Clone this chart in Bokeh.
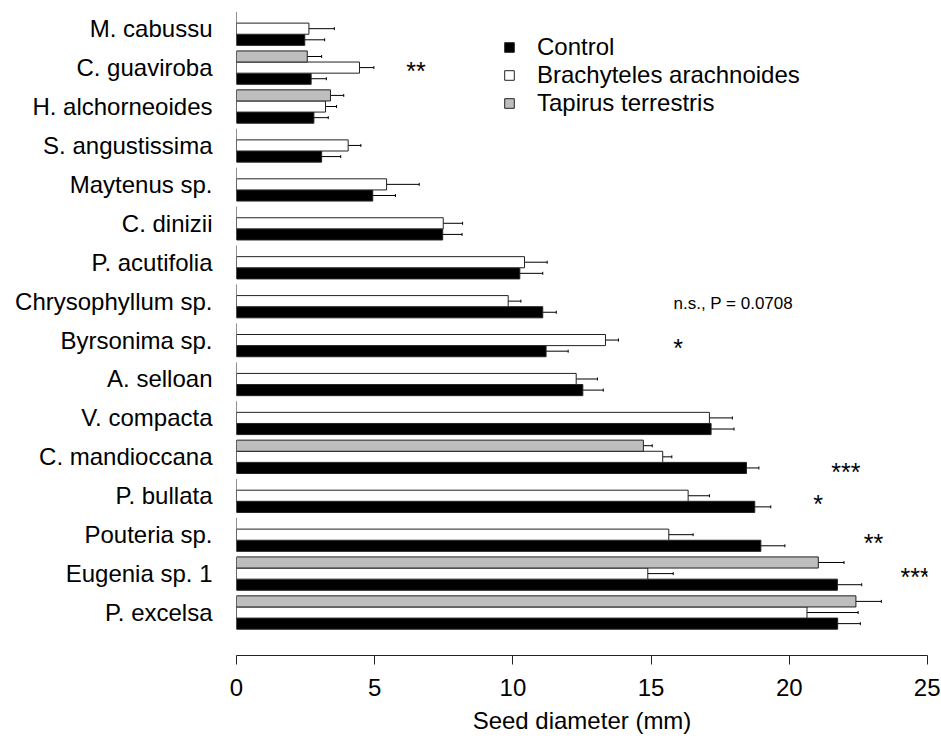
import math
from bokeh.plotting import figure
from bokeh.models import (Range1d, FixedTicker, ColumnDataSource, Whisker, TeeHead,
                          Legend, LegendItem)
from bokeh.core.properties import value
from bokeh.embed import file_html
from bokeh.resources import INLINE

nan = float("nan")

# ---- data (top to bottom as in the chart) ----
species = ["M. cabussu", "C. guaviroba", "H. alchorneoides", "S. angustissima",
           "Maytenus sp.", "C. dinizii", "P. acutifolia", "Chrysophyllum sp.",
           "Byrsonima sp.", "A. selloan", "V. compacta", "C. mandioccana",
           "P. bullata", "Pouteria sp.", "Eugenia sp. 1", "P. excelsa"]
control = [2.47, 2.70, 2.80, 3.08, 4.93, 7.46, 10.25, 11.08, 11.20, 12.53,
           17.17, 18.45, 18.75, 18.97, 21.74, 21.75]
control_se = [0.72, 0.55, 0.52, 0.69, 0.82, 0.70, 0.83, 0.49, 0.80, 0.74,
              0.83, 0.45, 0.58, 0.87, 0.88, 0.82]
brachyteles = [2.62, 4.45, 3.22, 4.04, 5.43, 7.48, 10.42, 9.83, 13.35, 12.29,
               17.11, 15.42, 16.34, 15.64, 14.88, 20.64]
brachyteles_se = [0.92, 0.52, 0.40, 0.46, 1.18, 0.70, 0.82, 0.46, 0.47, 0.77,
                  0.83, 0.33, 0.77, 0.88, 0.92, 1.85]
tapirus = [nan, 2.56, 3.40, nan, nan, nan, nan, nan, nan, nan,
           nan, 14.72, nan, nan, 21.05, 22.41]
tapirus_se = [nan, 0.52, 0.48, nan, nan, nan, nan, nan, nan, nan,
              nan, 0.32, nan, nan, 0.93, 0.92]

series_names = ["Control", "Brachyteles arachnoides", "Tapirus terrestris"]
series_colors = ["#000000", "#ffffff", "#bebebe"]

x_ticks = [0, 5, 10, 15, 20, 25]
x_title = "Seed diameter (mm)"

# significance annotations (species, x, label)
star_species = ["C. guaviroba", "Byrsonima sp.", "C. mandioccana", "P. bullata",
                "Pouteria sp.", "Eugenia sp. 1"]
star_x = [6.49, 15.98, 22.05, 21.04, 23.05, 24.55]
star_dy = [-0.7, -1.4, -2.7, -1.5, -1.5, -0.6]
star_text = ["**", "*", "***", "*", "**", "***"]
ns_species = ["Chrysophyllum sp."]
ns_x = [15.81]
ns_text = ["n.s., P = 0.0708"]

# ---- layout helpers ----
n = len(species)
PITCH = 7
centers = [PITCH * (n - 1 - i) for i in range(n)]
center_of = dict(zip(species, centers))

FONT = "Liberation Sans"

p = figure(width=940, height=740, output_backend="svg", toolbar_location=None,
           x_range=Range1d(0, 25), y_range=Range1d(-7.73, 108.63),
           min_border_left=236, min_border_right=13, min_border_top=8,
           min_border_bottom=85)
p.outline_line_color = None
p.xgrid.visible = False
p.ygrid.visible = False
p.background_fill_color = "white"
p.border_fill_color = "white"

# left edge of every group
p.segment(x0=[0] * n, x1=[0] * n, y0=[c - 3 for c in centers],
          y1=[c + 3 for c in centers], line_color="#222222", line_width=1)

renderers = []
for k, (vals, ses, col) in enumerate([(control, control_se, series_colors[0]),
                                       (brachyteles, brachyteles_se, series_colors[1]),
                                       (tapirus, tapirus_se, series_colors[2])]):
    ys, vs, es = [], [], []
    for c, v, e in zip(centers, vals, ses):
        if not math.isnan(v):
            ys.append(c - 2 + 2 * k)
            vs.append(v)
            es.append(e)
    src = ColumnDataSource(dict(y=ys, right=vs,
                                lower=[v - e for v, e in zip(vs, es)],
                                upper=[v + e for v, e in zip(vs, es)]))
    r = p.hbar(y="y", left=0, right="right", height=2, source=src,
               fill_color=col, line_color="#222222", line_width=1)
    renderers.append(r)
    w = Whisker(source=src, base="y", lower="lower", upper="upper", dimension="width",
                line_color="black", line_width=1,
                upper_head=TeeHead(size=3, line_color="black", line_width=1),
                lower_head=TeeHead(size=3, line_color="black", line_width=1))
    p.add_layout(w)

# annotations
p.text(x=star_x, y=[center_of[s] + d for s, d in zip(star_species, star_dy)],
       text=star_text, text_font=value(FONT), text_font_size="25px",
       text_align="center", text_baseline="middle", text_color="black")
p.text(x=ns_x, y=[center_of[s] - 0.5 for s in ns_species], text=ns_text,
       text_font=value(FONT), text_font_size="17px", text_align="left",
       text_baseline="middle", text_color="black")

# axes
p.xaxis.ticker = FixedTicker(ticks=x_ticks)
p.xaxis.axis_label = x_title
p.xaxis.axis_label_text_font = FONT
p.xaxis.axis_label_text_font_size = "24px"
p.xaxis.axis_label_text_font_style = "normal"
p.xaxis.axis_label_text_color = "black"
p.xaxis.axis_label_standoff = 8
p.xaxis.major_label_text_font = FONT
p.xaxis.major_label_text_font_size = "24px"
p.xaxis.major_label_text_color = "black"
p.xaxis.major_label_standoff = 14
p.xaxis.axis_line_color = "#222222"
p.xaxis.major_tick_line_color = "#222222"
p.xaxis.major_tick_out = 9
p.xaxis.major_tick_in = 0
p.xaxis.minor_tick_line_color = None

p.yaxis.ticker = FixedTicker(ticks=centers)
p.yaxis.major_label_overrides = {c: s for c, s in zip(centers, species)}
p.yaxis.major_label_text_font = FONT
p.yaxis.major_label_text_font_size = "24px"
p.yaxis.major_label_text_color = "black"
p.yaxis.axis_line_color = None
p.yaxis.major_tick_line_color = None
p.yaxis.minor_tick_line_color = None
p.yaxis.major_tick_out = 0
p.yaxis.major_tick_in = 0
p.yaxis.major_label_standoff = 24

legend = Legend(items=[LegendItem(label=series_names[i], renderers=[renderers[i]])
                       for i in range(3)],
                location=(267, 538), glyph_width=12, glyph_height=12,
                label_standoff=22, label_text_font=FONT, label_text_font_size="24px",
                label_text_line_height=1.08, label_height=12,
                label_text_color="black", spacing=0, padding=0, margin=0,
                border_line_color=None, background_fill_alpha=0)
p.add_layout(legend)

open("out.html", "w").write(file_html(p, INLINE))
